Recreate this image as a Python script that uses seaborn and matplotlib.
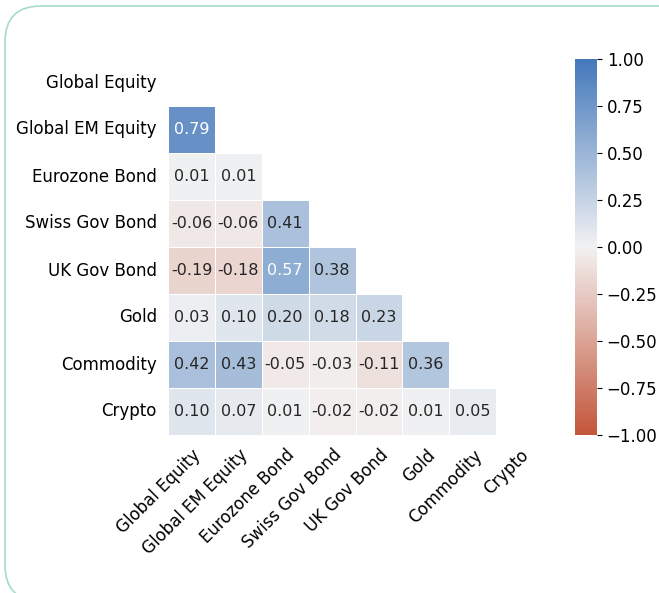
import numpy as np
import pandas as pd
import matplotlib
matplotlib.use("Agg")
import matplotlib.pyplot as plt
from matplotlib.patches import FancyBboxPatch
from matplotlib.transforms import IdentityTransform
import seaborn as sns

assets = ["Global Equity", "Global EM Equity", "Eurozone Bond", "Swiss Gov Bond",
          "UK Gov Bond", "Gold", "Commodity", "Crypto"]

# lower triangle of the correlation matrix, row by row
row_em = [0.79]
row_ez = [0.01, 0.01]
row_ch = [-0.06, -0.06, 0.41]
row_uk = [-0.19, -0.18, 0.57, 0.38]
row_gold = [0.03, 0.10, 0.20, 0.18, 0.23]
row_cmdty = [0.42, 0.43, -0.05, -0.03, -0.11, 0.36]
row_crypto = [0.10, 0.07, 0.01, -0.02, -0.02, 0.01, 0.05]

lower_rows = [row_em, row_ez, row_ch, row_uk, row_gold, row_cmdty, row_crypto]
cbar_ticks = [-1, -0.75, -0.5, -0.25, 0, 0.25, 0.5, 0.75, 1]

n = len(assets)
corr = np.eye(n)
for i, vals in enumerate(lower_rows, start=1):
    for j, v in enumerate(vals):
        corr[i, j] = v
        corr[j, i] = v
corr = pd.DataFrame(corr, index=assets, columns=assets)

mask = np.triu(np.ones_like(corr, dtype=bool))
cmap = sns.diverging_palette(20, 250, as_cmap=True)

W, H = 659, 593
fig = plt.figure(figsize=(W / 100, H / 100), dpi=100)

# rounded card border (pixel coords, runs off the right and bottom)
fig.patches.append(FancyBboxPatch((5, -8), 720, H - 6 + 8,
                                  boxstyle="round,pad=0,rounding_size=36",
                                  transform=IdentityTransform(), fill=False,
                                  edgecolor="#a6dcc6", linewidth=1.2))

ax = fig.add_axes([168 / W, 1 - 435 / H, 375 / W, 376 / H])
cax = fig.add_axes([575 / W, 1 - 435 / H, 22 / W, 376 / H])

sns.heatmap(corr, mask=mask, cmap=cmap, vmin=-1, vmax=1, center=0,
            annot=True, fmt=".2f", annot_kws={"size": 11.5},
            linewidths=0.5, linecolor="white",
            ax=ax, cbar_ax=cax)

ax.tick_params(axis="both", length=0, labelsize=12, pad=8)
ax.set_xticklabels(assets, rotation=45, ha="right", rotation_mode="anchor")
ax.set_yticklabels(assets, rotation=0)
cax.tick_params(labelsize=12)
cax.set_yticks(cbar_ticks)
cax.set_yticklabels([f"{t:.2f}".replace("-", "\u2212") for t in cbar_ticks])

fig.savefig("out.png", dpi=100)
